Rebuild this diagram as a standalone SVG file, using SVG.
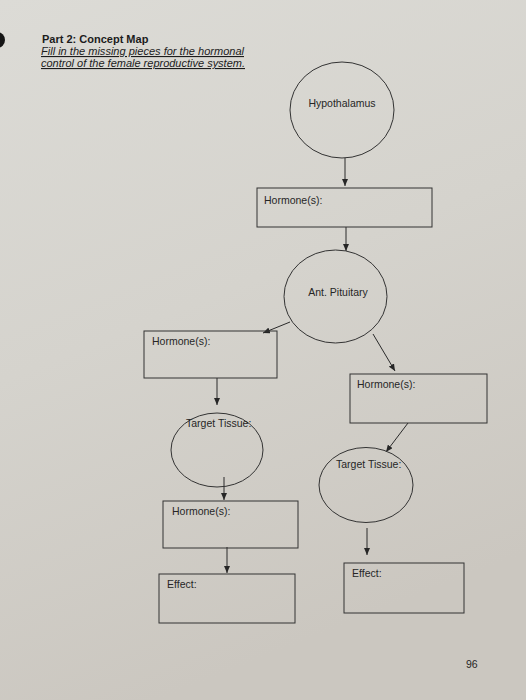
<svg xmlns="http://www.w3.org/2000/svg" width="526" height="700" viewBox="0 0 526 700">
  <defs>
    <linearGradient id="paper" x1="0" y1="0" x2="0.3" y2="1">
      <stop offset="0" stop-color="#dcdbd6"/>
      <stop offset="0.5" stop-color="#d5d3cd"/>
      <stop offset="1" stop-color="#cbc7c0"/>
    </linearGradient>
    <marker id="arr" markerUnits="userSpaceOnUse" markerWidth="8" markerHeight="6" refX="7" refY="3" orient="auto">
      <path d="M0,0 L7,3 L0,6 z" fill="#262626"/>
    </marker>
    <style>
      .node { fill: none; stroke: #333333; stroke-width: 1; }
      .lbl { font-family: "Liberation Sans", Arial, sans-serif; font-size: 10.5px; fill: #262626; }
      .con { stroke: #2a2a2a; stroke-width: 1; fill: none; marker-end: url(#arr); }
      .ttl { font-family: "Liberation Sans", Arial, sans-serif; font-size: 11px; fill: #1c1c1c; }
    </style>
  </defs>

  <rect x="0" y="0" width="526" height="700" fill="url(#paper)"/>
  <circle cx="-3" cy="40" r="8" fill="#151515"/>

  <g id="title">
    <text class="ttl" x="42" y="43" font-weight="bold">Part 2: Concept Map</text>
    <text class="ttl" x="41" y="55" font-style="italic" text-decoration="underline" textLength="203" lengthAdjust="spacingAndGlyphs">Fill in the missing pieces for the hormonal</text>
    <text class="ttl" x="41" y="67" font-style="italic" text-decoration="underline" textLength="204" lengthAdjust="spacingAndGlyphs">control of the female reproductive system.</text>
  </g>

  <g id="connectors">
    <line class="con" x1="345" y1="158" x2="345" y2="186"/>
    <line class="con" x1="346" y1="227" x2="346" y2="251"/>
    <line class="con" x1="290" y1="322" x2="263" y2="333"/>
    <line class="con" x1="373" y1="334" x2="395" y2="371"/>
    <line class="con" x1="217" y1="378" x2="217" y2="405"/>
    <line class="con" x1="408" y1="423" x2="386" y2="452"/>
    <line class="con" x1="224" y1="477" x2="224" y2="500"/>
    <line class="con" x1="227" y1="547" x2="227" y2="573"/>
    <line class="con" x1="367" y1="528" x2="367" y2="555"/>
  </g>

  <g id="hypothalamus">
    <ellipse class="node" cx="342" cy="110" rx="52" ry="48"/>
    <text class="lbl" x="342" y="107" text-anchor="middle">Hypothalamus</text>
  </g>

  <g id="hormones-1">
    <rect class="node" x="257" y="188" width="175" height="39"/>
    <text class="lbl" x="264" y="204">Hormone(s):</text>
  </g>

  <g id="ant-pituitary">
    <ellipse class="node" cx="335.5" cy="296.5" rx="51.5" ry="46.5"/>
    <text class="lbl" x="338" y="296" text-anchor="middle">Ant. Pituitary</text>
  </g>

  <g id="hormones-left">
    <rect class="node" x="144" y="331" width="133" height="47"/>
    <text class="lbl" x="152" y="345">Hormone(s):</text>
  </g>

  <g id="hormones-right">
    <rect class="node" x="350" y="374" width="137" height="49"/>
    <text class="lbl" x="357" y="388">Hormone(s):</text>
  </g>

  <g id="target-left">
    <ellipse class="node" cx="217" cy="450" rx="46" ry="37"/>
    <text class="lbl" x="186" y="427">Target Tissue:</text>
  </g>

  <g id="target-right">
    <ellipse class="node" cx="366" cy="485" rx="47" ry="37.5"/>
    <text class="lbl" x="336" y="468">Target Tissue:</text>
  </g>

  <g id="hormones-lower">
    <rect class="node" x="163" y="501" width="135" height="47"/>
    <text class="lbl" x="172" y="515">Hormone(s):</text>
  </g>

  <g id="effect-left">
    <rect class="node" x="159" y="574" width="136" height="49"/>
    <text class="lbl" x="167" y="588">Effect:</text>
  </g>

  <g id="effect-right">
    <rect class="node" x="344" y="563" width="120" height="50"/>
    <text class="lbl" x="352" y="577">Effect:</text>
  </g>

  <text class="lbl" x="466" y="668">96</text>
</svg>
